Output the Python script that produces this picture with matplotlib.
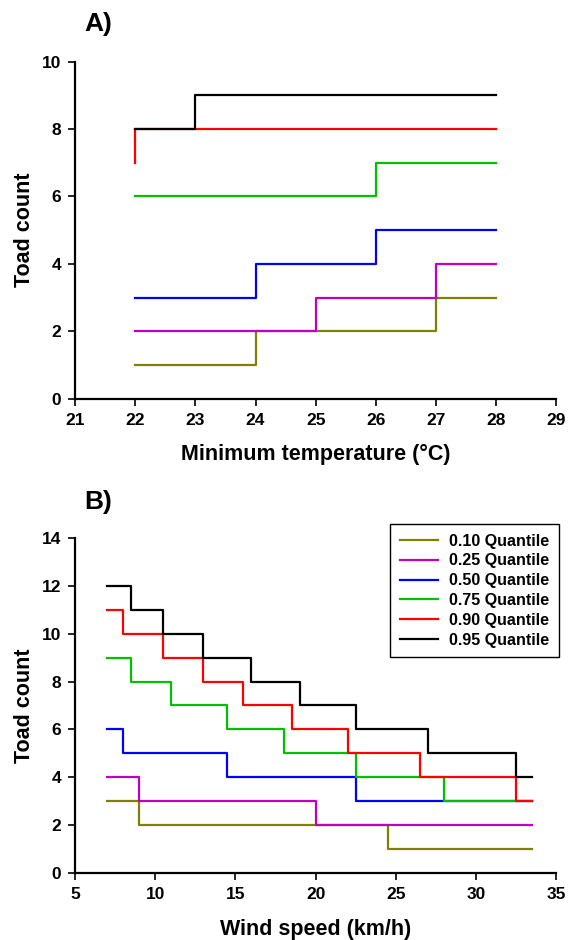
import matplotlib
matplotlib.use('Agg')
import matplotlib.pyplot as plt

plt.rcParams['font.family'] = ['Liberation Sans', 'DejaVu Sans']
plt.rcParams['font.weight'] = 'bold'

quantile_labels = ['0.10 Quantile', '0.25 Quantile', '0.50 Quantile',
                   '0.75 Quantile', '0.90 Quantile', '0.95 Quantile']
colors = ['#808000', '#c000c0', '#0000ff', '#00c000', '#ff0000', '#000000']

# A) toad count vs minimum temperature: step edges and levels per quantile
temp_edges = [
    [22, 24, 27, 28],
    [22, 25, 27, 28],
    [22, 24, 26, 28],
    [22, 26, 28],
    [22, 22, 28],
    [22, 23, 28],
]
temp_levels = [
    [1, 2, 3],
    [2, 3, 4],
    [3, 4, 5],
    [6, 7],
    [7, 8],
    [8, 9],
]

# B) toad count vs wind speed
wind_edges = [
    [7, 9, 24.5, 33.5],
    [7, 9, 20, 33.5],
    [7, 8, 14.5, 22.5, 33.5],
    [7, 8.5, 11, 14.5, 18, 22.5, 28, 33.5],
    [7, 8, 10.5, 13, 15.5, 18.5, 22, 26.5, 32.5, 33.5],
    [7, 8.5, 10.5, 13, 16, 19, 22.5, 27, 32.5, 33.5],
]
wind_levels = [
    [3, 2, 1],
    [4, 3, 2],
    [6, 5, 4, 3],
    [9, 8, 7, 6, 5, 4, 3],
    [11, 10, 9, 8, 7, 6, 5, 4, 3],
    [12, 11, 10, 9, 8, 7, 6, 5, 4],
]


def style_axes(ax):
    for side in ['top', 'right']:
        ax.spines[side].set_visible(False)
    for side in ['left', 'bottom']:
        ax.spines[side].set_linewidth(1.6)
    ax.tick_params(direction='out', length=5, width=1.2, labelsize=12.5, pad=5)
    for lab in ax.get_xticklabels() + ax.get_yticklabels():
        lab.set_fontweight('bold')


def draw_steps(ax, edges, levels):
    for e, lv, c, lab in zip(edges, levels, colors, quantile_labels):
        ax.step(e, lv + [lv[-1]], where='post', color=c, lw=1.6, label=lab)


fig = plt.figure(figsize=(5.69, 9.40), dpi=100)

axA = fig.add_axes([0.1318, 0.5759, 0.846, 0.3585])
draw_steps(axA, temp_edges, temp_levels)
axA.set_xlim(21, 29)
axA.set_ylim(0, 10)
axA.set_xticks(range(21, 30))
axA.set_yticks(range(0, 11, 2))
style_axes(axA)
axA.set_xlabel('Minimum temperature (°C)', fontsize=15.5, fontweight='bold', labelpad=12)
axA.set_ylabel('Toad count', fontsize=15.5, fontweight='bold', labelpad=5)
fig.text(0.148, 0.975, 'A)', fontsize=19, fontweight='bold', va='center')

axB = fig.add_axes([0.1318, 0.071, 0.846, 0.357])
draw_steps(axB, wind_edges, wind_levels)
axB.set_xlim(5, 35)
axB.set_ylim(0, 14)
axB.set_xticks(range(5, 36, 5))
axB.set_yticks(range(0, 15, 2))
style_axes(axB)
axB.set_xlabel('Wind speed (km/h)', fontsize=15.5, fontweight='bold', labelpad=12)
axB.set_ylabel('Toad count', fontsize=15.5, fontweight='bold', labelpad=5)
fig.text(0.148, 0.466, 'B)', fontsize=19, fontweight='bold', va='center')

leg = axB.legend(loc='upper right', bbox_to_anchor=(559 / 569, 1 - 524 / 940),
                 bbox_transform=fig.transFigure, borderaxespad=0,
                 fancybox=False, edgecolor='black', framealpha=1,
                 prop={'size': 11.5, 'weight': 'bold'}, handlelength=2.4,
                 labelspacing=0.3, borderpad=0.6, handletextpad=0.7)
leg.get_frame().set_linewidth(1.0)

fig.savefig('out.png', dpi=100)
